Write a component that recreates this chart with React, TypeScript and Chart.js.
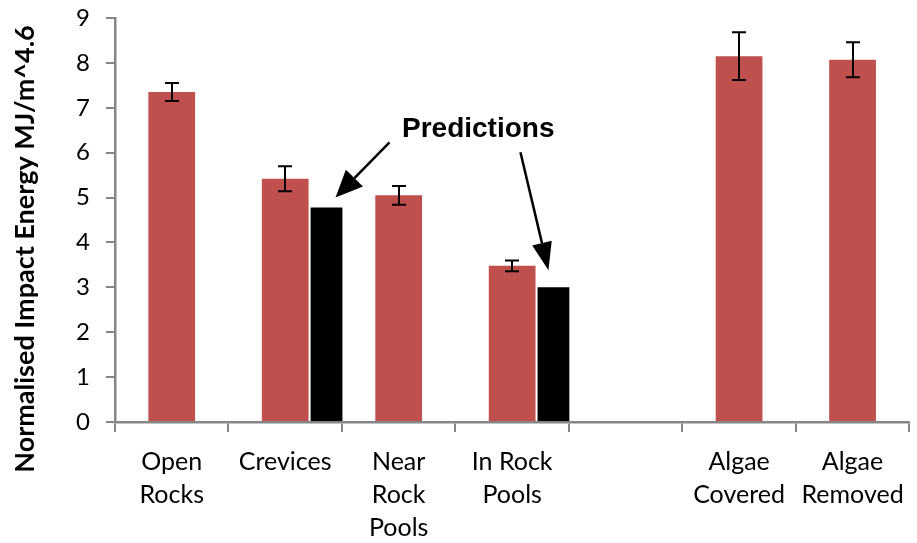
import { useEffect, useRef } from "react";
import { Chart, registerables } from "chart.js";

Chart.register(...registerables);

// Site categories along the x axis (multi-line labels)
const categories: (string | string[])[] = [
  ["Open", "Rocks"],
  ["Crevices"],
  ["Near", "Rock", "Pools"],
  ["In Rock", "Pools"],
  "",
  ["Algae", "Covered"],
  ["Algae", "Removed"],
];

// Measured normalised impact energy and its error (±)
const measured: (number | null)[] = [7.35, 5.42, 5.05, 3.48, null, 8.15, 8.07];
const measuredError: (number | null)[] = [0.2, 0.28, 0.21, 0.12, null, 0.53, 0.39];

// Model predictions shown beside two of the measured bars
const predicted: (number | null)[] = [null, 4.78, null, 3.0, null, null, null];

// Empty slot that keeps the measured bars centred in each category
const spacer: (number | null)[] = [null, null, null, null, null, null, null];

const yMin = 0;
const yMax = 9;
const yStep = 1;

const yTitle = "Normalised Impact Energy MJ/m^4.6";
const predictionLabel = "Predictions";

const RED = "#C0504D";
const AXIS_GREY = "#868686";
const TICK_FONT = "Lato";

function drawArrow(
  ctx: CanvasRenderingContext2D,
  x0: number,
  y0: number,
  x1: number,
  y1: number,
  headLen: number,
  headHalf: number
) {
  const ang = Math.atan2(y1 - y0, x1 - x0);
  const bx = x1 - Math.cos(ang) * headLen;
  const by = y1 - Math.sin(ang) * headLen;
  ctx.beginPath();
  ctx.moveTo(x0, y0);
  ctx.lineTo(bx, by);
  ctx.stroke();
  const px = -Math.sin(ang) * headHalf;
  const py = Math.cos(ang) * headHalf;
  ctx.beginPath();
  ctx.moveTo(x1, y1);
  ctx.lineTo(bx + px, by + py);
  ctx.lineTo(bx - px, by - py);
  ctx.closePath();
  ctx.fill();
}

// Error bars drawn on top of the measured bars
const errorBarPlugin = {
  id: "errorBars",
  afterDatasetsDraw(chart: any) {
    const ctx: CanvasRenderingContext2D = chart.ctx;
    const meta = chart.getDatasetMeta(1);
    const yScale = chart.scales.y;
    ctx.save();
    ctx.strokeStyle = "#000";
    ctx.lineWidth = 2;
    meta.data.forEach((bar: any, i: number) => {
      const v = measured[i];
      const e = measuredError[i];
      if (v == null || e == null) return;
      const top = yScale.getPixelForValue(v + e);
      const bot = yScale.getPixelForValue(v - e);
      const x = Math.round(bar.x);
      const cap = 7;
      ctx.beginPath();
      ctx.moveTo(x, top);
      ctx.lineTo(x, bot);
      ctx.moveTo(x - cap, top);
      ctx.lineTo(x + cap, top);
      ctx.moveTo(x - cap, bot);
      ctx.lineTo(x + cap, bot);
      ctx.stroke();
    });
    ctx.restore();
  },
};

// "Predictions" callout with arrows pointing at the predicted bars
const calloutPlugin = {
  id: "predictionCallout",
  afterDraw(chart: any) {
    const ctx: CanvasRenderingContext2D = chart.ctx;
    const area = chart.chartArea;
    const bars = chart.getDatasetMeta(2).data;
    ctx.save();
    ctx.fillStyle = "#000";
    ctx.strokeStyle = "#000";
    ctx.font = "bold 28px 'Liberation Sans', Arial, sans-serif";
    ctx.textAlign = "left";
    ctx.textBaseline = "alphabetic";
    ctx.fillText(predictionLabel, area.left + 287, area.top + 119);

    ctx.lineWidth = 2.5;
    const b1 = bars[1];
    const t1x = b1.x + 9;
    const t1y = b1.y - 10;
    drawArrow(ctx, t1x + 54, t1y - 55, t1x, t1y, 27, 12);

    const b2 = bars[3];
    const t2x = b2.x - 5;
    const t2y = b2.y - 17;
    drawArrow(ctx, t2x - 28, t2y - 118, t2x, t2y, 28, 10);
    ctx.restore();
  },
};

// Rotated y-axis title
const yTitlePlugin = {
  id: "yTitle",
  afterDraw(chart: any) {
    const ctx: CanvasRenderingContext2D = chart.ctx;
    const area = chart.chartArea;
    ctx.save();
    ctx.translate(25, (area.top + area.bottom) / 2 + 29);
    ctx.rotate(-Math.PI / 2);
    ctx.font = `bold 27px ${TICK_FONT}, sans-serif`;
    ctx.fillStyle = "#000";
    ctx.textAlign = "center";
    ctx.textBaseline = "middle";
    ctx.fillText(yTitle, 0, 0);
    ctx.restore();
  },
};

export default function App() {
  const canvasRef = useRef<HTMLCanvasElement | null>(null);

  useEffect(() => {
    if (!canvasRef.current) return;
    const chart = new Chart(canvasRef.current, {
      type: "bar",
      data: {
        labels: categories,
        datasets: [
          {
            label: "spacer",
            data: spacer,
            backgroundColor: "rgba(0,0,0,0)",
            categoryPercentage: 1.2,
            barPercentage: 1,
          },
          {
            label: "Measured",
            data: measured,
            backgroundColor: RED,
            categoryPercentage: 1.2,
            barPercentage: 1.03,
          },
          {
            label: "Predicted",
            data: predicted,
            backgroundColor: "#000000",
            categoryPercentage: 1.092,
            barPercentage: 0.77,
          },
        ] as any,
      },
      options: {
        animation: false,
        responsive: true,
        maintainAspectRatio: false,
        layout: { padding: { top: 18, right: 5, left: 0, bottom: 0 } },
        plugins: {
          legend: { display: false },
          tooltip: { enabled: false },
        },
        scales: {
          x: {
            grid: {
              display: true,
              drawOnChartArea: false,
              drawTicks: true,
              tickLength: 10,
              color: AXIS_GREY,
              lineWidth: 2,
              offset: true,
            },
            border: { display: true, color: AXIS_GREY, width: 2.5 },
            ticks: {
              color: "#000",
              font: { family: TICK_FONT, size: 25, lineHeight: 1.32 },
              padding: 13,
              maxRotation: 0,
              autoSkip: false,
            },
            afterFit(scale: any) {
              scale.height = 121;
            },
          },
          y: {
            min: yMin,
            max: yMax,
            grid: {
              display: true,
              drawOnChartArea: false,
              drawTicks: true,
              tickLength: 9,
              color: AXIS_GREY,
              lineWidth: 2,
            },
            border: { display: true, color: AXIS_GREY, width: 2.5 },
            ticks: {
              stepSize: yStep,
              color: "#000",
              font: { family: TICK_FONT, size: 24 },
              padding: 16,
            },
            afterFit(scale: any) {
              scale.width = 115;
              scale.paddingTop = 0;
              scale.paddingBottom = 0;
            },
          },
        },
      },
      plugins: [errorBarPlugin, calloutPlugin, yTitlePlugin],
    });
    return () => chart.destroy();
  }, []);

  return (
    <div style={{ position: "absolute", left: 0, top: 0, width: 917, height: 543, background: "#fff" }}>
      <canvas ref={canvasRef} />
    </div>
  );
}
